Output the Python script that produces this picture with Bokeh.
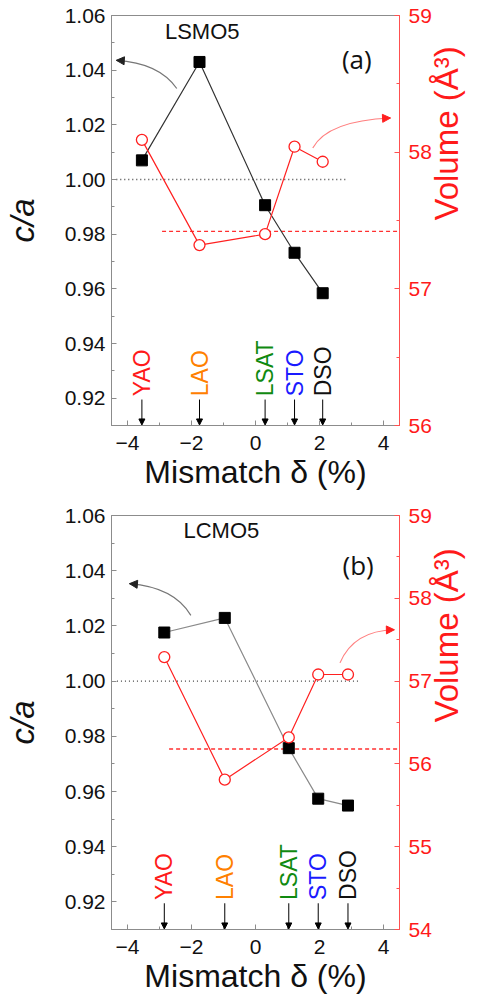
import math
from bokeh.plotting import figure
from bokeh.models import (Range1d, LinearAxis, FixedTicker, PrintfTickFormatter,
                          ColumnDataSource, Arrow, NormalHead, Label)
from bokeh.layouts import column
from bokeh.embed import file_html
from bokeh.resources import INLINE
from bokeh.core.properties import value

# ---------------- data ----------------
substrates = ["YAO", "LAO", "LSAT", "STO", "DSO"]
substrate_colors = ["#ff1a1a", "#ff8000", "#108a10", "#1a1aff", "#111111"]

mismatch_a = [-3.55, -1.75, 0.30, 1.22, 2.10]
ca_a = [1.007, 1.043, 0.9906, 0.9732, 0.9584]
vol_a = [58.09, 57.32, 57.40, 58.04, 57.93]
vol_ref_a = 57.42

mismatch_b = [-2.85, -0.96, 1.04, 1.96, 2.89]
ca_b = [1.0176, 1.0229, 0.9757, 0.9574, 0.9549]
vol_b = [57.29, 55.81, 56.32, 57.08, 57.08]
vol_ref_b = 56.18

ca_ticks = [0.92, 0.94, 0.96, 0.98, 1.00, 1.02, 1.04, 1.06]
x_ticks = [-4, -2, 0, 2, 4]
vol_ticks_a = [56, 57, 58, 59]
vol_ticks_b = [54, 55, 56, 57, 58, 59]

FONT = "Liberation Sans"


def panel(name, tag, xs, ca, vol, vref, vol_lo, vol_hi, vol_ticks, h, top, bottom,
          left, right, ca_col, dot_x, dash_x0, blk_arrow, red_arrow, name_xy, tag_xy):
    p = figure(width=486, height=h, x_range=Range1d(-4.5, 4.5), y_range=Range1d(0.91, 1.06),
               output_backend="svg", toolbar_location=None,
               min_border_left=left, min_border_right=right,
               min_border_top=top, min_border_bottom=bottom)
    p.background_fill_color = "white"
    p.border_fill_color = "white"
    p.outline_line_color = "#8c8c8c"
    p.xgrid.visible = False
    p.ygrid.visible = False
    p.extra_y_ranges = {"vol": Range1d(vol_lo, vol_hi)}

    # axes
    for ax in (p.xaxis[0], p.yaxis[0]):
        ax.axis_line_color = "#8c8c8c"
        ax.major_tick_line_color = "#8c8c8c"
        ax.minor_tick_line_color = "#8c8c8c"
        ax.major_tick_in = 5
        ax.major_tick_out = 0
        ax.minor_tick_in = 3
        ax.minor_tick_out = 0
        ax.major_label_text_font = FONT
        ax.major_label_text_font_size = "21px"
        ax.major_label_text_color = "#111111"
        ax.axis_label_text_font = FONT
        ax.axis_label_text_color = "#111111"
        ax.axis_label_text_font_style = "normal"

    xa = p.xaxis[0]
    xa.ticker = FixedTicker(ticks=x_ticks, minor_ticks=[-4, -3, -2, -1, 0, 1, 2, 3, 4])
    xa.axis_label = "Mismatch δ (%)"
    xa.axis_label_text_font_size = "32px"
    xa.major_label_standoff = 10
    xa.axis_label_standoff = 1

    ya = p.yaxis[0]
    ya.ticker = FixedTicker(ticks=ca_ticks,
                            minor_ticks=[round(0.91 + 0.01 * i, 2) for i in range(16)])
    ya.formatter = PrintfTickFormatter(format="%.2f")
    ya.axis_label = "c/a"
    ya.axis_label_text_font_style = "italic"
    ya.axis_label_text_font_size = "33px"
    ya.major_label_standoff = 6
    ya.axis_label_standoff = 21

    ra = LinearAxis(y_range_name="vol")
    ra.ticker = FixedTicker(ticks=vol_ticks,
                            minor_ticks=[vol_lo + 0.5 * i for i in range(int((vol_hi - vol_lo) * 2) + 1)])
    ra.axis_line_color = "#ff5050"
    ra.major_tick_line_color = "#ff5050"
    ra.minor_tick_line_color = "#ff5050"
    ra.major_tick_in = 5
    ra.major_tick_out = 0
    ra.minor_tick_in = 3
    ra.minor_tick_out = 0
    ra.major_label_text_font = FONT
    ra.major_label_text_font_size = "21px"
    ra.major_label_text_color = "#ff1a1a"
    ra.major_label_standoff = 9
    ra.axis_label = "Volume (Å³)"
    ra.axis_label_text_font = FONT
    ra.axis_label_text_font_size = "33px"
    ra.axis_label_text_font_style = "normal"
    ra.axis_label_text_color = "#ff1a1a"
    ra.axis_label_standoff = 12
    ra.axis_label_orientation = math.pi / 2
    ra.axis_label_text_baseline = "top"
    p.add_layout(ra, "right")

    # reference lines
    p.line(x=[dot_x[0], dot_x[1]], y=[1.0, 1.0], line_color="#444444", line_width=1.3,
           line_dash="1 3")
    p.line(x=[dash_x0, 4.5], y=[vref, vref], line_color="#ff3030", line_width=1.3,
           line_dash="4 3", y_range_name="vol")

    # c/a series
    src = ColumnDataSource(dict(x=xs, ca=ca, vol=vol))
    p.line("x", "ca", source=src, line_color=ca_col, line_width=1.2)
    p.scatter("x", "ca", source=src, marker="square", size=11, fill_color="black",
              line_color="black")
    # volume series
    p.line("x", "vol", source=src, line_color="#ff2020", line_width=1.2, y_range_name="vol")
    p.scatter("x", "vol", source=src, marker="circle", size=11, fill_color="white",
              line_color="#ff2020", line_width=1.3, y_range_name="vol")

    # curved pointer arrows
    (bx0, by0, bcx, bcy, bx1, by1) = blk_arrow
    p.quadratic(x0=[bx0], y0=[by0], cx=[bcx], cy=[bcy], x1=[bx1], y1=[by1],
                line_color="#777777", line_width=1.2)
    p.add_layout(Arrow(end=NormalHead(size=8, fill_color="#222222", line_color="#222222"),
                       x_start=bx1 + 0.02 * (bcx - bx1), y_start=by1 + 0.02 * (bcy - by1),
                       x_end=bx1, y_end=by1, line_color="#222222", line_width=1))
    (rx0, ry0, rcx, rcy, rx1, ry1) = red_arrow
    p.quadratic(x0=[rx0], y0=[ry0], cx=[rcx], cy=[rcy], x1=[rx1], y1=[ry1],
                line_color="#ff8080", line_width=1.2, y_range_name="vol")
    p.add_layout(Arrow(end=NormalHead(size=8, fill_color="#ff2020", line_color="#ff2020"),
                       x_start=rx1 + 0.02 * (rcx - rx1), y_start=ry1 + 0.02 * (rcy - ry1),
                       x_end=rx1, y_end=ry1, line_color="#ff2020", line_width=1,
                       y_range_name="vol"))

    # substrate labels & down arrows
    lsrc = ColumnDataSource(dict(x=xs, y=[0.9207] * 5, text=substrates, color=substrate_colors,
                                 y0=[0.9195] * 5, y1=[0.9102] * 5))
    p.text("x", "y", text="text", source=lsrc, angle=math.pi / 2, text_align="left",
           text_baseline="middle", text_color="color", text_font=value(FONT),
           text_font_size="23px")
    p.add_layout(Arrow(end=NormalHead(size=6, fill_color="black", line_color="black"),
                       source=lsrc, x_start="x", y_start="y0", x_end="x", y_end="y1",
                       line_color="black", line_width=1))

    p.add_layout(Label(x=name_xy[0], y=name_xy[1], text=name, text_font=FONT,
                       text_font_size="22px", text_color="#111111", text_baseline="middle"))
    p.add_layout(Label(x=tag_xy[0], y=tag_xy[1], text=tag, text_font="Open Sans",
                       text_font_size="26px", text_color="#111111", text_baseline="middle"))
    return p


pa = panel("LSMO5", "(a)", mismatch_a, ca_a, vol_a, vol_ref_a, 56, 59, vol_ticks_a,
           500, 15, 75, 108, 85, "#333333", (-4.35, 2.9), -2.92,
           (-2.46, 1.0333, -3.02, 1.0427, -4.35, 1.0436),
           (1.79, 58.03, 2.25, 58.23, 4.22, 58.25),
           (-2.83, 1.054), (2.7, 1.044))
pb = panel("LCMO5", "(b)", mismatch_b, ca_b, vol_b, vol_ref_b, 54, 59, vol_ticks_b,
           505, 15, 76, 109, 86, "#8a8a8a", (-4.33, 3.25), -2.7,
           (-2.02, 1.0238, -2.54, 1.034, -3.94, 1.0353),
           (2.64, 57.22, 3.07, 57.61, 4.34, 57.62),
           (-2.25, 1.0545), (2.72, 1.0419))

layout = column(pa, pb)
open("out.html", "w").write(file_html(layout, INLINE))
